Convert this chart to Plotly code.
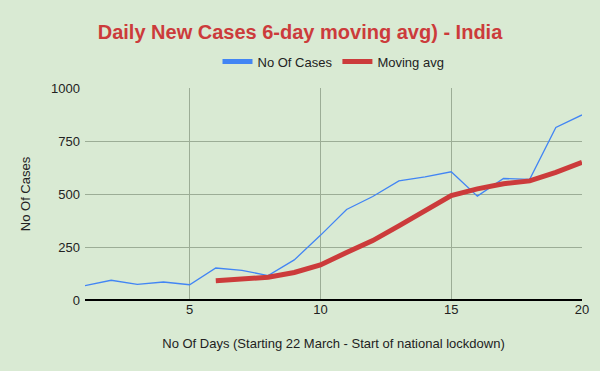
import plotly.graph_objects as go

days = list(range(1, 21))
cases = [68, 93, 74, 85, 72, 151, 140, 115, 189, 305, 427, 488, 562, 581, 605, 490, 573, 569, 814, 873]
mov_days = list(range(6, 21))
mov_avg = [91, 101, 107, 130, 165, 224, 280, 350, 424, 493, 524, 548, 562, 602, 649]
y_ticks = [0, 250, 500, 750, 1000]
x_ticks = [5, 10, 15, 20]

BLUE = "#4285f4"
RED = "#cc3b3b"
BG = "#d9ead3"
GRID = "#9cad96"
FONT = "Liberation Sans, Arial, sans-serif"

fig = go.Figure()
fig.add_trace(go.Scatter(x=days, y=cases, mode="lines", name="No Of Cases",
                         line=dict(color=BLUE, width=1.3), showlegend=False))
fig.add_trace(go.Scatter(x=mov_days, y=mov_avg, mode="lines", name="Moving avg",
                         line=dict(color=RED, width=5), showlegend=False))
# legend entries (thick swatches like the original)
fig.add_trace(go.Scatter(x=[None], y=[None], mode="lines", name="No Of Cases",
                         line=dict(color=BLUE, width=5)))
fig.add_trace(go.Scatter(x=[None], y=[None], mode="lines", name="Moving avg",
                         line=dict(color=RED, width=5)))

fig.update_layout(
    width=600, height=371,
    paper_bgcolor=BG, plot_bgcolor=BG,
    margin=dict(l=85, r=18, t=88, b=71),
    font=dict(family=FONT, size=12, color="#222222"),
    title=dict(text="<b>Daily New Cases 6-day moving avg) - India</b>",
               x=0.5, xanchor="center", y=0.915, yanchor="middle",
               font=dict(family=FONT, size=20, color=RED)),
    legend=dict(orientation="h", x=0.5, xanchor="center", y=1.125, yanchor="middle",
                font=dict(size=13, color="#222222"), itemwidth=30,
                bgcolor="rgba(0,0,0,0)"),
    xaxis=dict(range=[1, 20], tickvals=x_ticks, showgrid=True, gridcolor=GRID,
               gridwidth=1, zeroline=False, showline=False, ticks="",
               tickfont=dict(size=13),
               title=dict(text="No Of Days (Starting 22 March - Start of national lockdown)",
                          font=dict(size=13), standoff=22)),
    yaxis=dict(range=[0, 1000], tickvals=y_ticks, showgrid=True, gridcolor=GRID,
               gridwidth=1, zeroline=True, zerolinecolor="#000000", zerolinewidth=2,
               ticks="", tickfont=dict(size=13), ticklabelstandoff=4,
               title=dict(text="No Of Cases", font=dict(size=13), standoff=17)),
)

fig.write_html("out.html", config={"displayModeBar": False},
               post_script="document.body.style.margin='0';document.body.style.background='#d9ead3';")
